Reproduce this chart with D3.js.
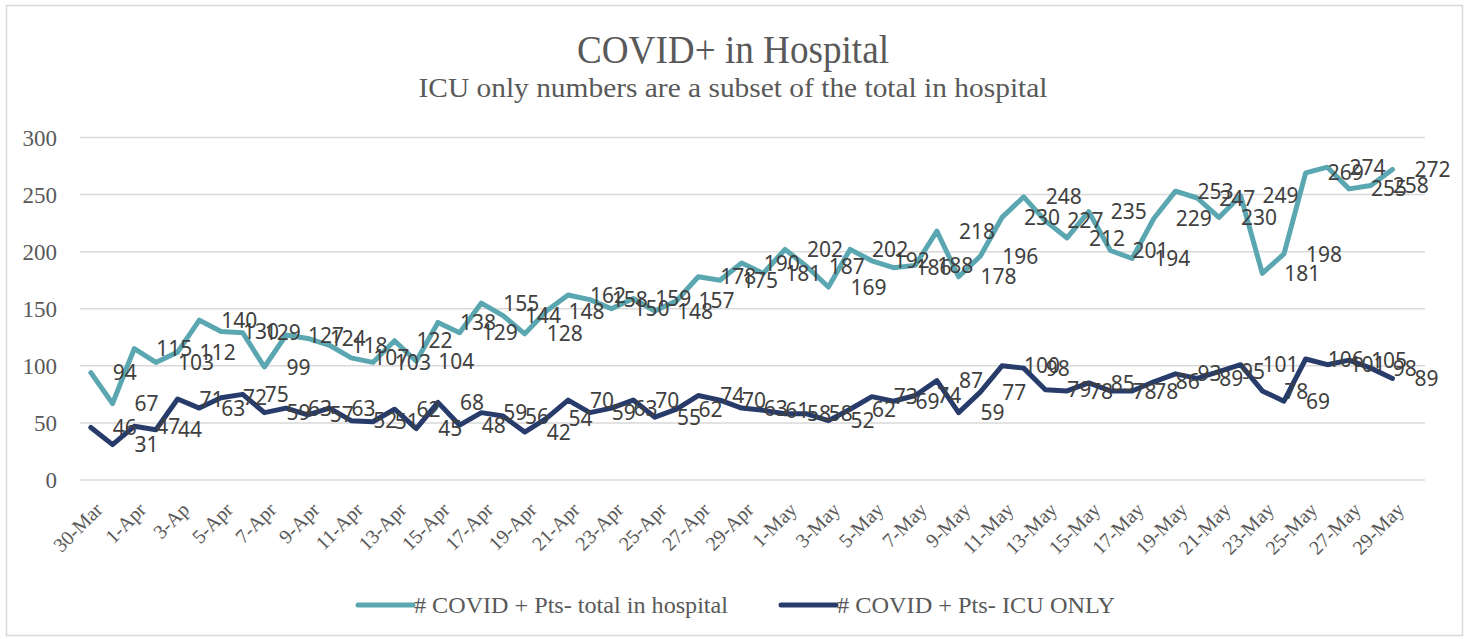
<!DOCTYPE html>
<html>
<head>
<meta charset="utf-8">
<script src="https://cdn.jsdelivr.net/npm/d3@7/dist/d3.min.js"></script>
<style>
body { margin: 0; background: #fff; }
svg { display: block; }
</style>
</head>
<body>
<div id="chart"></div>
<script>
// categories (one per day, last day has no data)
const days = ["30-Mar","31-Mar",
  "1-Apr","2-Apr","3-Ap","4-Apr","5-Apr","6-Apr","7-Apr","8-Apr","9-Apr","10-Apr",
  "11-Apr","12-Apr","13-Apr","14-Apr","15-Apr","16-Apr","17-Apr","18-Apr","19-Apr","20-Apr",
  "21-Apr","22-Apr","23-Apr","24-Apr","25-Apr","26-Apr","27-Apr","28-Apr","29-Apr","30-Apr",
  "1-May","2-May","3-May","4-May","5-May","6-May","7-May","8-May","9-May","10-May",
  "11-May","12-May","13-May","14-May","15-May","16-May","17-May","18-May","19-May","20-May",
  "21-May","22-May","23-May","24-May","25-May","26-May","27-May","28-May","29-May","30-May"];

const totalHosp = [94,67,115,103,112,140,130,129,99,127,124,118,107,103,122,104,138,129,155,144,
  128,148,162,158,150,159,148,157,178,175,190,181,202,187,169,202,192,186,188,218,
  178,196,230,248,227,212,235,201,194,229,253,247,230,249,181,198,269,274,255,258,272];

const icuOnly = [46,31,47,44,71,63,72,75,59,63,57,63,52,51,62,45,68,48,59,56,
  42,54,70,59,63,70,55,62,74,70,63,61,58,58,52,62,73,69,74,87,
  59,77,100,98,79,78,85,78,78,86,93,89,95,101,78,69,106,101,105,98,89];

const yTicks = [0,50,100,150,200,250,300];

const series = [
  {name: "# COVID + Pts- total in hospital", values: totalHosp, color: "#5ba7b1"},
  {name: "# COVID + Pts- ICU ONLY", values: icuOnly, color: "#283c6b"}
];

const W = 1468, H = 639;
const serif = "'Liberation Serif','Times New Roman',serif";

var svg = d3.select("#chart").append("svg")
    .attr("width", W)
    .attr("height", H);

// outer border
svg.append("rect")
    .attr("x", 6.5).attr("y", 5.5)
    .attr("width", 1456).attr("height", 630)
    .style("fill", "none")
    .style("stroke", "#d9d9d9")
    .style("stroke-width", 1.5);

var x = d3.scaleBand().domain(days).range([80, 1425]);
var y = d3.scaleLinear().domain([0, 300]).range([480, 137.5]);
var xc = function(i) { return x(days[i]) + x.bandwidth() / 2; };

// titles
svg.append("text")
    .attr("x", 733).attr("y", 63)
    .attr("text-anchor", "middle")
    .attr("textLength", 312).attr("lengthAdjust", "spacingAndGlyphs")
    .style("font-family", serif).style("font-size", "41px")
    .style("fill", "#595959")
    .text("COVID+ in Hospital");

svg.append("text")
    .attr("x", 733).attr("y", 97)
    .attr("text-anchor", "middle")
    .attr("textLength", 629).attr("lengthAdjust", "spacingAndGlyphs")
    .style("font-family", serif).style("font-size", "28px")
    .style("fill", "#595959")
    .text("ICU only numbers are a subset of the total in hospital");

// gridlines + y labels
svg.append("g").selectAll("line").data(yTicks).enter().append("line")
    .attr("x1", 80).attr("x2", 1425)
    .attr("y1", function(d) { return y(d); })
    .attr("y2", function(d) { return y(d); })
    .style("stroke", "#d9d9d9")
    .style("stroke-width", 1.5);

svg.append("g").selectAll("text").data(yTicks).enter().append("text")
    .attr("x", 57)
    .attr("y", function(d) { return y(d); })
    .attr("dy", "0.35em")
    .attr("text-anchor", "end")
    .style("font-family", serif).style("font-size", "23px")
    .style("fill", "#595959")
    .text(function(d) { return d; });

// x labels, every other day
svg.append("g").selectAll("text")
    .data(days.filter(function(d, i) { return i % 2 == 0; }))
    .enter().append("text")
    .attr("transform", function(d) {
        return "translate(" + (x(d) + x.bandwidth() / 2 + 8) + ",506) rotate(-45)";
    })
    .attr("dy", "0.35em")
    .attr("text-anchor", "end")
    .style("font-family", serif).style("font-size", "20px")
    .style("fill", "#595959")
    .text(function(d) { return d; });

// lines
var line = d3.line()
    .x(function(d, i) { return xc(i); })
    .y(function(d) { return y(d); });

series.forEach(function(s) {
    svg.append("path")
        .datum(s.values)
        .attr("d", line)
        .style("fill", "none")
        .style("stroke", s.color)
        .style("stroke-width", 5)
        .style("stroke-linejoin", "round")
        .style("stroke-linecap", "round");
});

// data labels
series.forEach(function(s) {
    svg.append("g").selectAll("text").data(s.values).enter().append("text")
        .attr("x", function(d, i) { return xc(i) + 22; })
        .attr("y", function(d) { return y(d); })
        .attr("dy", "0.36em")
        .style("font-family", "'Noto Sans', sans-serif").style("font-size", "21px")
        .style("fill", "#404040")
        .text(function(d) { return d; });
});

// legend
var legX = [358, 781];
var legW = [314, 278];
series.forEach(function(s, i) {
    svg.append("line")
        .attr("x1", legX[i]).attr("x2", legX[i] + 55)
        .attr("y1", 605).attr("y2", 605)
        .style("stroke", s.color)
        .style("stroke-width", 5)
        .style("stroke-linecap", "round");
    svg.append("text")
        .attr("x", legX[i] + 56).attr("y", 605)
        .attr("dy", "0.35em")
        .attr("textLength", legW[i]).attr("lengthAdjust", "spacingAndGlyphs")
        .style("font-family", serif).style("font-size", "24px")
        .style("fill", "#595959")
        .text(s.name);
});
</script>
</body>
</html>
